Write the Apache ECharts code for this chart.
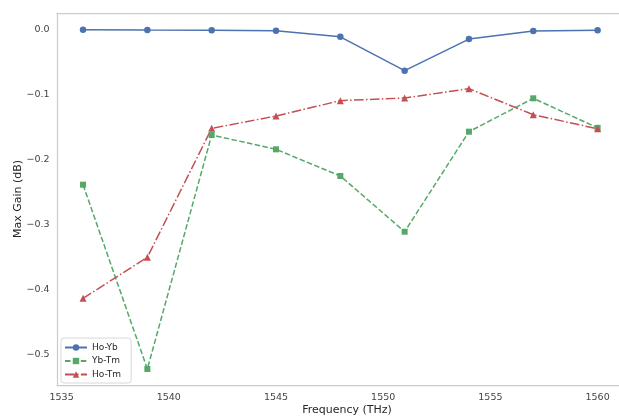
<!DOCTYPE html>
<html>
<head>
<meta charset="utf-8">
<script src="https://cdn.jsdelivr.net/npm/echarts@6/dist/echarts.min.js"></script>
<style>
html,body{margin:0;padding:0;background:#fff;}
#chart{width:619px;height:419px;}
</style>
</head>
<body>
<div id="chart"></div>
<script>
// ---- data ----
const frequencies = [1536, 1539, 1542, 1545, 1548, 1551, 1554, 1557, 1560];
const hoYb = [0.0005, 0.0, -0.0003, -0.001, -0.0105, -0.0625, -0.014, -0.0015, -0.0003];
const ybTm = [-0.238, -0.5215, -0.1615, -0.1836, -0.2246, -0.3103, -0.1564, -0.1051, -0.1505];
const hoTm = [-0.4128, -0.3497, -0.1513, -0.1323, -0.1087, -0.1046, -0.0903, -0.1303, -0.1520];
const seriesNames = ['Ho-Yb', 'Yb-Tm', 'Ho-Tm'];
const xTicks = [1535, 1540, 1545, 1550, 1555, 1560];
const yTicks = [0.0, -0.1, -0.2, -0.3, -0.4, -0.5];

const FONT = 'DejaVu Sans';
const FRAME = '#cccccc';
const pairs = vals => frequencies.map((f, i) => [f, vals[i]]);
const fmtY = v => (Math.abs(v) < 1e-9 ? '0.0' : (v < 0 ? '\u2212' : '') + Math.abs(v).toFixed(1));
const fmtX = v => String(Math.round(v));
const frameLine = {show: true, lineStyle: {color: FRAME, width: 1.25}};
const hidden = {axisTick: {show: false}, axisLabel: {show: false}, splitLine: {show: false}};

const chart = echarts.init(document.getElementById('chart'), null, {renderer: 'canvas'});
chart.setOption({
  animation: false,
  backgroundColor: '#ffffff',
  grid: [
    // outer frame (matplotlib axes box with margins; right side runs off canvas)
    {left: 57, top: 13, width: 580, height: 372, show: false, containLabel: false, outerBoundsMode: 'none'},
    // data area spanning tick extents
    {left: 61.6, top: 30, width: 536, height: 325, containLabel: false, outerBoundsMode: 'none'}
  ],
  xAxis: [
    Object.assign({gridIndex: 0, type: 'value', min: 0, max: 1, position: 'bottom', axisLine: frameLine,
     name: 'Frequency (THz)', nameLocation: 'middle', nameGap: 20, nameTextStyle: {fontFamily: FONT, fontSize: 11, color: '#262626'}}, hidden),
    Object.assign({gridIndex: 0, type: 'value', min: 0, max: 1, position: 'top', axisLine: frameLine}, hidden),
    {gridIndex: 1, type: 'value', min: xTicks[0], max: xTicks[xTicks.length - 1], interval: xTicks[1] - xTicks[0],
     axisLine: {show: false}, axisTick: {show: false}, splitLine: {show: false},
     axisLabel: {margin: 38, fontFamily: FONT, fontSize: 9.5, color: '#444444', formatter: fmtX}}
  ],
  yAxis: [
    Object.assign({gridIndex: 0, type: 'value', min: 0, max: 1, position: 'left', axisLine: frameLine,
     name: 'Max Gain (dB)', nameLocation: 'middle', nameGap: 33, nameTextStyle: {fontFamily: FONT, fontSize: 11, color: '#262626'}}, hidden),
    {gridIndex: 1, type: 'value', min: yTicks[yTicks.length - 1], max: yTicks[0], interval: Math.abs(yTicks[1] - yTicks[0]),
     axisLine: {show: false}, axisTick: {show: false}, splitLine: {show: false},
     axisLabel: {margin: 12, fontFamily: FONT, fontSize: 9.5, color: '#444444', formatter: fmtY}}
  ],
  legend: {
    orient: 'vertical', left: 61, top: 338,
    data: seriesNames,
    itemWidth: 22, itemHeight: 8, itemGap: 4.5,
    padding: [5, 10, 4, 3],
    backgroundColor: '#ffffff', borderColor: '#d8d8d8', borderWidth: 1, borderRadius: 3,
    textStyle: {fontFamily: FONT, fontSize: 9, color: '#262626', lineHeight: 9}
  },
  series: [
    {name: seriesNames[0], type: 'line', xAxisIndex: 2, yAxisIndex: 1, data: pairs(hoYb), clip: false,
     symbol: 'circle', symbolSize: 6.5, color: '#4C72B0',
     lineStyle: {width: 1.5, color: '#4C72B0'}, itemStyle: {color: '#4C72B0'}},
    {name: seriesNames[1], type: 'line', xAxisIndex: 2, yAxisIndex: 1, data: pairs(ybTm), clip: false,
     symbol: 'rect', symbolSize: 6, color: '#55A868',
     lineStyle: {width: 1.5, color: '#55A868', type: [5.5, 2.4]}, itemStyle: {color: '#55A868'}},
    {name: seriesNames[2], type: 'line', xAxisIndex: 2, yAxisIndex: 1, data: pairs(hoTm), clip: false,
     symbol: 'triangle', symbolSize: 7, color: '#C44E52',
     lineStyle: {width: 1.5, color: '#C44E52', type: [9.6, 2.4, 1.5, 2.4]}, itemStyle: {color: '#C44E52'}}
  ]
});
</script>
</body>
</html>
